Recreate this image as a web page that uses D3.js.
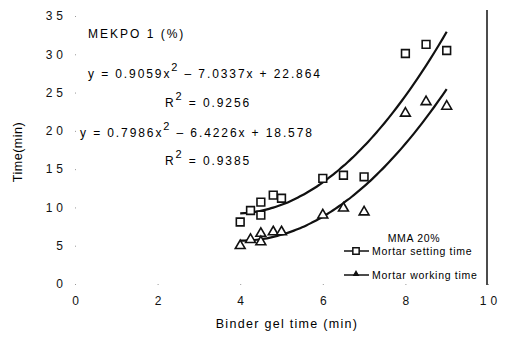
<!DOCTYPE html>
<html>
<head>
<meta charset="utf-8">
<script src="https://cdn.jsdelivr.net/npm/d3@7"></script>
<style>
  body { margin: 0; background: #fff; }
  svg { font-family: "Liberation Sans", Arial, sans-serif; }
</style>
</head>
<body>
<div id="chart"></div>
<script>
const FRAME_WIDTH = 509;
const FRAME_HEIGHT = 341;

// data
const gelTime = [4.0, 4.25, 4.5, 4.5, 4.8, 5.0, 6.0, 6.5, 7.0, 8.0, 8.5, 9.0];
const settingTime = [8.1, 9.6, 10.7, 9.0, 11.6, 11.2, 13.8, 14.2, 14.0, 30.1, 31.3, 30.5];
const workingTime = [5.0, 5.8, 6.6, 5.5, 6.8, 6.8, 9.0, 9.9, 9.4, 22.3, 23.8, 23.2];

// printed trendline coefficients (a, b, c) of y = ax^2 + bx + c
const settingFit = [0.9059, -7.0337, 22.864];
const workingFit = [0.7986, -6.4226, 18.578];
const fitRange = [4, 9];

const xTicks = [0, 2, 4, 6, 8, 10];
const yTicks = [0, 5, 10, 15, 20, 25, 30, 35];

const X_SCALE = d3.scaleLinear().domain([0, 10]).range([75, 488]);
const Y_SCALE = d3.scaleLinear().domain([0, 35]).range([284, 16]);

const FRAME = d3.select("#chart")
  .append("svg")
    .attr("width", FRAME_WIDTH)
    .attr("height", FRAME_HEIGHT);

// axes: no domain line, just faint dot ticks
const xAxis = FRAME.append("g")
  .attr("transform", "translate(0," + Y_SCALE(0) + ")")
  .call(d3.axisBottom(X_SCALE).tickValues(xTicks).tickSize(1).tickPadding(11));
xAxis.select(".domain").remove();
xAxis.selectAll("line").attr("stroke", "#999");
xAxis.selectAll("text")
  .attr("font-size", "12px")
  .attr("dx", "2px")
  .style("letter-spacing", "4px")
  .attr("fill", "#111");

const yAxis = FRAME.append("g")
  .attr("transform", "translate(" + X_SCALE(0) + ",0)")
  .call(d3.axisLeft(Y_SCALE).tickValues(yTicks).tickSize(-1).tickPadding(8));
yAxis.select(".domain").remove();
yAxis.selectAll("line").attr("stroke", "#999");
yAxis.selectAll("text")
  .attr("font-size", "12px")
  .style("letter-spacing", "4px")
  .attr("fill", "#111");

// right frame line
FRAME.append("line")
  .attr("x1", X_SCALE(10) - 1).attr("x2", X_SCALE(10) - 1)
  .attr("y1", 10).attr("y2", Y_SCALE(0) + 1)
  .attr("stroke", "#111").attr("stroke-width", 1.5);

// axis titles
FRAME.append("text")
  .attr("x", 287).attr("y", 328)
  .attr("text-anchor", "middle")
  .attr("font-size", "12.5px")
  .attr("letter-spacing", "1.3px")
  .text("Binder gel time (min)");

FRAME.append("text")
  .attr("transform", "translate(22,152) rotate(-90)")
  .attr("text-anchor", "middle")
  .attr("font-size", "12.5px")
  .attr("letter-spacing", "0.5px")
  .text("Time(min)");

// trend curves
function trend(coef) {
  const pts = [];
  for (let x = fitRange[0]; x <= fitRange[1] + 1e-9; x += 0.1) {
    pts.push([x, coef[0] * x * x + coef[1] * x + coef[2]]);
  }
  return pts;
}
const line = d3.line()
  .x(d => X_SCALE(d[0]))
  .y(d => Y_SCALE(d[1]))
  .curve(d3.curveMonotoneX);

[settingFit, workingFit].forEach(coef => {
  FRAME.append("path")
    .datum(trend(coef))
    .attr("d", line)
    .attr("fill", "none")
    .attr("stroke", "#111")
    .attr("stroke-width", 2.2);
});

// markers
const sq = d3.symbol().type(d3.symbolSquare).size(60);
const tri = d3.symbol().type(d3.symbolTriangle).size(42);

FRAME.selectAll(".setting")
  .data(gelTime)
  .enter()
  .append("path")
    .attr("class", "setting")
    .attr("d", sq)
    .attr("transform", (d, i) => "translate(" + X_SCALE(d) + "," + Y_SCALE(settingTime[i]) + ")")
    .attr("fill", "#fff")
    .attr("stroke", "#111")
    .attr("stroke-width", 1.6);

FRAME.selectAll(".working")
  .data(gelTime)
  .enter()
  .append("path")
    .attr("class", "working")
    .attr("d", tri)
    .attr("transform", (d, i) => "translate(" + X_SCALE(d) + "," + Y_SCALE(workingTime[i]) + ")")
    .attr("fill", "#fff")
    .attr("stroke", "#111")
    .attr("stroke-width", 1.6);

// annotations
function eqText(x, y, coef) {
  const t = FRAME.append("text").attr("x", x).attr("y", y)
    .attr("font-size", "12px").attr("letter-spacing", "1.9px");
  t.append("tspan").text("y = " + coef[0].toFixed(4) + "x");
  t.append("tspan").attr("dy", -7).attr("font-size", "11px").text("2");
  t.append("tspan").attr("dy", 7)
    .text(" \u2013 " + Math.abs(coef[1]).toFixed(4) + "x + " + coef[2].toFixed(3));
}
function r2Text(x, y, val) {
  const t = FRAME.append("text").attr("x", x).attr("y", y)
    .attr("font-size", "12px").attr("letter-spacing", "1.9px");
  t.append("tspan").text("R");
  t.append("tspan").attr("dy", -7).attr("font-size", "11px").text("2");
  t.append("tspan").attr("dy", 7).text(" = " + val);
}

FRAME.append("text")
  .attr("x", 88).attr("y", 38)
  .attr("font-size", "12px")
  .attr("letter-spacing", "2px")
  .text("MEKPO 1 (%)");

eqText(88, 78, settingFit);
r2Text(165, 107, "0.9256");
eqText(80, 137, workingFit);
r2Text(165, 165, "0.9385");

// legend
const legend = FRAME.append("g").attr("font-size", "10.5px").attr("letter-spacing", "0.7px");
legend.append("text")
  .attr("x", 414).attr("y", 242)
  .attr("text-anchor", "middle")
  .text("MMA 20%");

legend.append("line")
  .attr("x1", 344).attr("x2", 369).attr("y1", 251).attr("y2", 251)
  .attr("stroke", "#111").attr("stroke-width", 1.5);
legend.append("path")
  .attr("d", d3.symbol().type(d3.symbolSquare).size(40))
  .attr("transform", "translate(356,251)")
  .attr("fill", "#fff").attr("stroke", "#111").attr("stroke-width", 1.5);
legend.append("text")
  .attr("x", 372).attr("y", 255)
  .text("Mortar setting time");

legend.append("line")
  .attr("x1", 344).attr("x2", 369).attr("y1", 275).attr("y2", 275)
  .attr("stroke", "#111").attr("stroke-width", 1.5);
legend.append("path")
  .attr("d", d3.symbol().type(d3.symbolTriangle).size(20))
  .attr("transform", "translate(356,274)")
  .attr("fill", "#111");
legend.append("text")
  .attr("x", 372).attr("y", 279)
  .text("Mortar working time");
</script>
</body>
</html>
